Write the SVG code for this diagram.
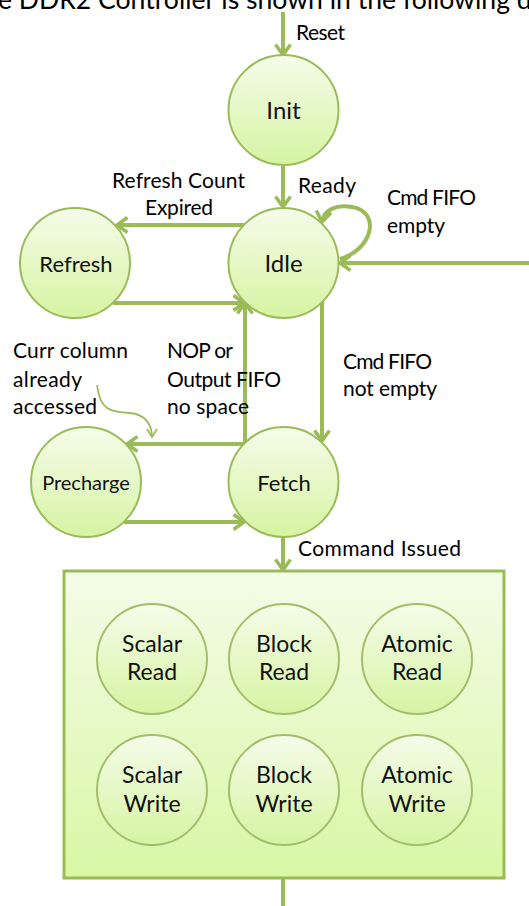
<svg xmlns="http://www.w3.org/2000/svg" width="529" height="906" viewBox="0 0 529 906">
<defs>
<linearGradient id="gc" x1="0" y1="0" x2="0" y2="1">
<stop offset="0" stop-color="#F5FCEA"/>
<stop offset="1" stop-color="#D6F4A2"/>
</linearGradient>
<linearGradient id="gb" x1="0" y1="0" x2="0" y2="1">
<stop offset="0" stop-color="#F4FCE8"/>
<stop offset="1" stop-color="#D9F7A4"/>
</linearGradient>
<marker id="ah" viewBox="0 0 14 18" refX="12" refY="9" markerWidth="14" markerHeight="18" markerUnits="userSpaceOnUse" orient="auto">
<path d="M1.5,1.5 L12,9 L1.5,16.5" fill="none" stroke="#9BBB59" stroke-width="3.5"/>
</marker>
<marker id="ahs" viewBox="0 0 10 12" refX="9" refY="6" markerWidth="10" markerHeight="12" markerUnits="userSpaceOnUse" orient="auto">
<path d="M1,1 L9,6 L1,11" fill="none" stroke="#9BBB59" stroke-width="1.8"/>
</marker>
</defs>
<style>
.st{fill:url(#gc);stroke:#9BBB59;stroke-width:2}
.sub{fill:url(#gc);stroke:#A3BE6A;stroke-width:2}
.ln{fill:none;stroke:#9BBB59;stroke-width:4}
.ar{marker-end:url(#ah)}
.nt{font-family:Lato,"Open Sans","Liberation Sans",sans-serif;fill:#111;text-anchor:middle}
.lb{font-family:Lato,"Open Sans","Liberation Sans",sans-serif;font-size:21px;fill:#000}
</style>
<text x="-2" y="9" font-family="Lato, Open Sans, sans-serif" font-size="26" fill="#000" textLength="540" lengthAdjust="spacingAndGlyphs">e DDR2 Controller is shown in the following di</text>

<g id="connectors">
<line class="ln ar" x1="283" y1="12" x2="283" y2="55"/>
<line class="ln ar" x1="283" y1="166" x2="283" y2="207"/>
<line class="ln ar" x1="244" y1="225" x2="117" y2="225"/>
<line class="ln ar" x1="113" y1="303" x2="244" y2="303"/>
<path class="ln ar" d="M340,259 C372,250 382,212 352,207 C336,204 324,210 322,222"/>
<line class="ln ar" x1="529" y1="263" x2="340" y2="263"/>
<line class="ln ar" x1="322" y1="302" x2="322" y2="441"/>
<polyline class="ln ar" points="245,443 245,444 245,303"/>
<polyline class="ln ar" points="245,444 127,444"/>
<line class="ln ar" x1="124" y1="522" x2="244" y2="522"/>
<path d="M97,385 C100,410 110,412 130,413 C145,414 152,425 152,437" fill="none" stroke="#9BBB59" stroke-width="1.8" marker-end="url(#ahs)"/>
<line class="ln ar" x1="283" y1="537" x2="283" y2="570"/>
<line class="ln" x1="283" y1="879" x2="283" y2="906"/>
</g>

<g id="labels">
<text class="lb" x="296" y="40" textLength="49">Reset</text>
<text class="lb" x="298" y="193" textLength="58">Ready</text>
<text class="lb" x="112" y="188" textLength="133">Refresh Count</text>
<text class="lb" x="145" y="215" textLength="68">Expired</text>
<text class="lb" x="387" y="205" textLength="89">Cmd FIFO</text>
<text class="lb" x="387" y="233" textLength="58">empty</text>
<text class="lb" x="13" y="358" textLength="115">Curr column</text>
<text class="lb" x="13" y="387" textLength="69">already</text>
<text class="lb" x="13" y="414" textLength="84">accessed</text>
<text class="lb" x="167" y="358" textLength="66">NOP or</text>
<text class="lb" x="167" y="387" textLength="114">Output FIFO</text>
<text class="lb" x="167" y="414" textLength="82">no space</text>
<text class="lb" x="343" y="369" textLength="89">Cmd FIFO</text>
<text class="lb" x="343" y="396" textLength="94">not empty</text>
<text class="lb" x="298" y="556" textLength="163">Command Issued</text>
</g>

<g id="init"><circle class="st" cx="283.5" cy="110" r="55"/><text class="nt" x="283.5" y="119" font-size="24">Init</text></g>
<g id="idle"><circle class="st" cx="283.5" cy="263" r="55"/><text class="nt" x="283.5" y="272" font-size="24">Idle</text></g>
<g id="refresh"><circle class="st" cx="75" cy="263" r="55"/><text class="nt" x="76" y="272" font-size="22">Refresh</text></g>
<g id="precharge"><circle class="st" cx="86" cy="482" r="55"/><text class="nt" x="86" y="490" font-size="20">Precharge</text></g>
<g id="fetch"><circle class="st" cx="283.5" cy="482" r="55"/><text class="nt" x="284" y="491" font-size="22">Fetch</text></g>

<g id="commands">
<rect x="64" y="571" width="440" height="307" fill="url(#gb)" stroke="#9BBB59" stroke-width="3"/>
<g id="scalar-read"><circle class="sub" cx="152" cy="659" r="55"/><text class="nt" x="152" y="652" font-size="23">Scalar</text><text class="nt" x="152" y="680" font-size="23">Read</text></g>
<g id="block-read"><circle class="sub" cx="284" cy="659" r="55"/><text class="nt" x="284" y="652" font-size="23">Block</text><text class="nt" x="284" y="680" font-size="23">Read</text></g>
<g id="atomic-read"><circle class="sub" cx="417" cy="659" r="55"/><text class="nt" x="417" y="652" font-size="23">Atomic</text><text class="nt" x="417" y="680" font-size="23">Read</text></g>
<g id="scalar-write"><circle class="sub" cx="152" cy="790" r="55"/><text class="nt" x="152" y="783" font-size="23">Scalar</text><text class="nt" x="152" y="812" font-size="23">Write</text></g>
<g id="block-write"><circle class="sub" cx="284" cy="790" r="55"/><text class="nt" x="284" y="783" font-size="23">Block</text><text class="nt" x="284" y="812" font-size="23">Write</text></g>
<g id="atomic-write"><circle class="sub" cx="417" cy="790" r="55"/><text class="nt" x="417" y="783" font-size="23">Atomic</text><text class="nt" x="417" y="812" font-size="23">Write</text></g>
</g>
</svg>
